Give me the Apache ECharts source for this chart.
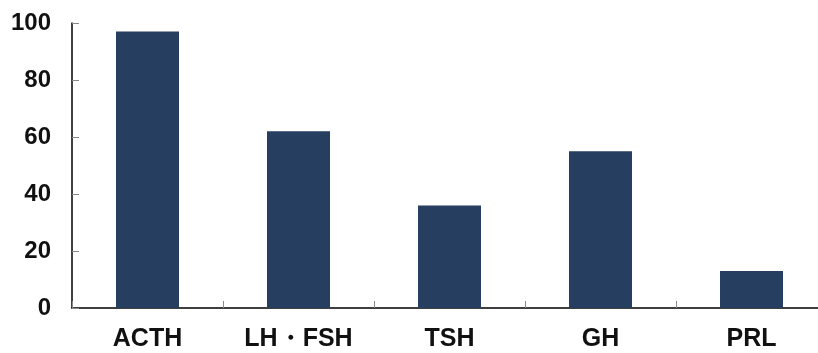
<!DOCTYPE html>
<html>
<head>
<meta charset="utf-8">
<script src="https://cdn.jsdelivr.net/npm/echarts@6/dist/echarts.min.js"></script>
<style>
  html, body { margin: 0; padding: 0; background: #fff; overflow: hidden; width: 818px; height: 353px; }
  /* canvas is a little wider than the page so the plot area runs past the right edge */
  #chart { width: 830px; height: 353px; }
</style>
</head>
<body>
<div id="chart"></div>
<script>
// Pituitary hormones and their values
const categories = ['ACTH', 'LH・FSH', 'TSH', 'GH', 'PRL'];
const values = [97, 62, 36, 55, 13];
const yTicks = { min: 0, max: 100, interval: 20 };

const chart = echarts.init(document.getElementById('chart'), null, { renderer: 'canvas' });

const labelFont = 'Liberation Sans, Arial, sans-serif';

chart.setOption({
  animation: false,
  backgroundColor: '#ffffff',
  grid: { left: 72, top: 23, width: 755, height: 285, containLabel: false },
  xAxis: {
    type: 'category',
    data: categories,
    axisLine: { show: true, lineStyle: { color: '#000', width: 1.5 } },
    axisTick: { show: true, inside: true, length: 7, lineStyle: { color: '#888', width: 1 } },
    axisLabel: {
      color: '#111',
      fontFamily: labelFont,
      fontWeight: 'bold',
      fontSize: 25,
      margin: 19
    }
  },
  yAxis: {
    type: 'value',
    min: yTicks.min,
    max: yTicks.max,
    interval: yTicks.interval,
    axisLine: { show: true, lineStyle: { color: '#000', width: 1.5 } },
    axisTick: { show: true, inside: true, length: 7, lineStyle: { color: '#888', width: 1 } },
    splitLine: { show: false },
    axisLabel: {
      color: '#111',
      fontFamily: labelFont,
      fontWeight: 'bold',
      fontSize: 24,
      margin: 21,
      padding: [4, 0, 0, 0]
    }
  },
  series: [{
    type: 'bar',
    data: values,
    barWidth: 63,
    itemStyle: { color: '#263f60' }
  }]
});
</script>
</body>
</html>
